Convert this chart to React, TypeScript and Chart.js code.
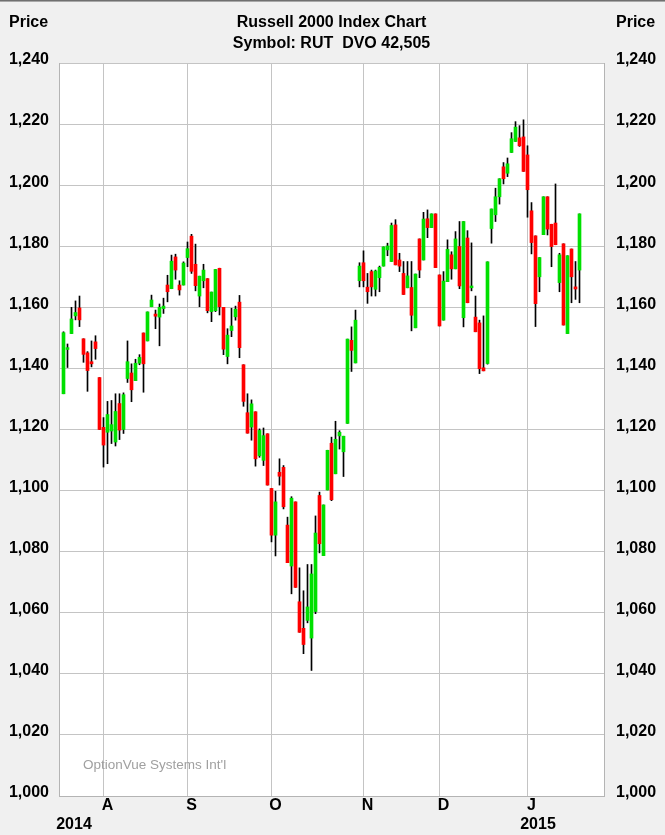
import React, { useEffect, useRef } from "react";
import { Chart, registerables } from "chart.js";

Chart.register(...registerables);

// Daily candles, 18 Jul 2014 .. 22 Jan 2015 (trading days, index 0..129)
const openPrices = [
  1131.7, 1146.2, 1151.4, 1157.2, 1159.8, 1149.7, 1145.1, 1142.2, 1148.7, 1137.0,
  1120.7, 1119.1, 1119.5, 1115.9, 1128.5, 1120.0, 1136.7, 1138.5, 1136.0, 1141.7,
  1151.6, 1149.0, 1160.2, 1157.8, 1156.8, 1159.6, 1167.3, 1166.1, 1176.5, 1167.3,
  1167.3, 1176.3, 1183.3, 1174.1, 1163.7, 1168.7, 1169.4, 1158.6, 1158.9, 1172.8,
  1160.0, 1143.9, 1152.4, 1156.9, 1161.7, 1141.2, 1125.5, 1120.8, 1125.8, 1111.4,
  1109.9, 1118.6, 1100.7, 1085.4, 1106.0, 1107.6, 1088.7, 1075.3, 1096.3, 1063.6,
  1054.9, 1057.5, 1051.7, 1060.4, 1098.4, 1078.7, 1100.2, 1115.5, 1105.5, 1117.9,
  1112.7, 1122.0, 1149.2, 1141.8, 1168.7, 1174.6, 1166.6, 1171.7, 1165.9, 1169.7,
  1173.5, 1178.8, 1175.0, 1187.0, 1175.5, 1171.1, 1166.4, 1166.5, 1153.3, 1182.4,
  1175.5, 1189.0, 1186.1, 1190.6, 1170.6, 1155.8, 1168.4, 1177.2, 1172.6, 1179.9,
  1156.6, 1182.7, 1166.4, 1156.8, 1154.9, 1140.2, 1141.6, 1185.8, 1190.3, 1196.2,
  1206.0, 1203.9, 1210.7, 1214.3, 1215.5, 1215.8, 1209.9, 1191.6, 1183.4, 1170.0,
  1183.8, 1196.2, 1187.2, 1187.6, 1168.1, 1180.8, 1151.4, 1179.1, 1166.7, 1172.2,
];
const highPrices = [
  1152.0, 1148.0, 1160.0, 1162.1, 1163.7, 1149.7, 1145.5, 1149.0, 1150.7, 1137.0,
  1123.9, 1129.2, 1129.5, 1131.7, 1131.7, 1132.0, 1149.0, 1141.5, 1143.0, 1144.5,
  1151.6, 1158.5, 1164.0, 1159.1, 1161.1, 1163.0, 1170.5, 1177.1, 1177.4, 1168.7,
  1174.9, 1181.4, 1183.9, 1180.7, 1170.2, 1174.1, 1169.4, 1165.0, 1172.4, 1172.8,
  1160.0, 1153.0, 1159.7, 1160.4, 1163.9, 1141.2, 1131.7, 1129.7, 1125.8, 1120.2,
  1120.5, 1118.6, 1100.7, 1099.8, 1110.4, 1108.2, 1091.3, 1098.0, 1096.3, 1074.7,
  1067.2, 1075.8, 1075.8, 1091.7, 1099.5, 1095.3, 1113.2, 1117.5, 1122.7, 1119.6,
  1117.8, 1149.6, 1153.6, 1159.1, 1174.6, 1178.5, 1171.1, 1172.2, 1172.2, 1173.5,
  1179.8, 1181.0, 1187.6, 1188.7, 1177.7, 1175.0, 1175.0, 1175.0, 1170.9, 1182.4,
  1191.1, 1191.9, 1190.6, 1190.6, 1170.6, 1171.7, 1182.1, 1178.2, 1184.8, 1188.1,
  1188.1, 1185.1, 1181.1, 1163.7, 1155.8, 1157.2, 1174.9, 1192.2, 1199.0, 1202.1,
  1207.4, 1208.9, 1217.2, 1220.8, 1219.5, 1221.4, 1212.9, 1194.3, 1183.4, 1176.3,
  1196.2, 1196.2, 1187.2, 1200.4, 1177.7, 1180.8, 1176.9, 1179.1, 1175.0, 1190.6,
];
const lowPrices = [
  1131.7, 1140.3, 1151.4, 1155.9, 1153.7, 1142.0, 1132.5, 1140.5, 1143.0, 1120.0,
  1107.7, 1108.8, 1115.4, 1114.6, 1116.7, 1118.7, 1135.4, 1129.1, 1136.0, 1141.2,
  1132.2, 1149.0, 1160.2, 1153.0, 1147.4, 1158.0, 1161.8, 1166.1, 1169.2, 1164.0,
  1167.3, 1173.3, 1171.1, 1165.4, 1160.2, 1166.4, 1158.2, 1155.3, 1158.6, 1157.5,
  1144.5, 1141.5, 1150.4, 1155.8, 1143.5, 1127.6, 1118.8, 1116.5, 1108.0, 1110.9,
  1108.2, 1101.8, 1083.2, 1078.6, 1101.8, 1094.0, 1076.4, 1066.2, 1068.3, 1053.6,
  1046.6, 1056.7, 1041.1, 1059.7, 1079.6, 1078.7, 1100.2, 1096.7, 1105.5, 1113.6,
  1104.6, 1122.0, 1139.0, 1141.8, 1166.7, 1166.7, 1161.3, 1163.7, 1163.7, 1165.1,
  1173.5, 1176.9, 1175.0, 1173.9, 1171.7, 1164.2, 1166.4, 1152.3, 1153.3, 1169.7,
  1175.5, 1182.8, 1186.1, 1173.0, 1153.9, 1155.8, 1168.4, 1169.2, 1172.6, 1166.1,
  1153.6, 1161.5, 1165.4, 1152.0, 1138.3, 1139.2, 1141.4, 1181.0, 1188.1, 1193.8,
  1200.4, 1202.8, 1210.7, 1214.3, 1212.7, 1204.5, 1189.5, 1177.5, 1153.7, 1165.1,
  1183.8, 1183.7, 1173.3, 1180.5, 1165.1, 1154.2, 1151.4, 1161.5, 1162.6, 1161.5,
];
const closePrices = [
  1151.7, 1146.8, 1156.2, 1158.3, 1155.9, 1144.6, 1139.3, 1141.5, 1146.5, 1120.0,
  1114.9, 1124.9, 1121.6, 1125.9, 1119.8, 1131.4, 1142.2, 1133.0, 1141.7, 1143.6,
  1141.5, 1158.5, 1162.4, 1157.1, 1160.0, 1160.4, 1165.1, 1175.1, 1172.2, 1165.7,
  1174.5, 1179.2, 1171.8, 1167.1, 1170.2, 1172.2, 1158.9, 1165.0, 1172.4, 1160.2,
  1146.3, 1150.9, 1153.9, 1159.4, 1146.8, 1129.2, 1118.8, 1128.4, 1110.4, 1119.7,
  1118.0, 1101.8, 1085.4, 1096.3, 1104.7, 1094.7, 1076.4, 1097.5, 1068.3, 1053.6,
  1049.6, 1061.9, 1072.7, 1086.1, 1082.6, 1095.3, 1113.2, 1097.0, 1116.8, 1119.1,
  1117.8, 1149.6, 1145.9, 1155.8, 1173.5, 1168.7, 1165.1, 1166.7, 1171.9, 1173.1,
  1179.8, 1180.1, 1186.8, 1173.9, 1173.5, 1164.2, 1170.3, 1157.4, 1170.9, 1172.2,
  1188.9, 1186.1, 1190.6, 1173.0, 1153.9, 1168.6, 1179.0, 1172.6, 1182.4, 1167.0,
  1188.1, 1161.5, 1167.0, 1152.0, 1139.9, 1139.2, 1174.9, 1192.2, 1196.2, 1202.1,
  1202.1, 1207.0, 1215.2, 1219.0, 1212.9, 1204.5, 1198.5, 1181.2, 1161.2, 1176.3,
  1196.2, 1185.6, 1179.9, 1180.5, 1177.2, 1154.2, 1176.9, 1170.0, 1166.0, 1190.6,
];

// Month boundaries (index of first trading day) and their labels
const monthTickIndex = [10, 31, 52, 75, 94, 116];
const monthLabels = ["A", "S", "O", "N", "D", "J"];
const yearLabels = ["2014", "2015"];
const titleLines = ["Russell 2000 Index Chart", "Symbol: RUT  DVO 42,505"];
const axisTitle = "Price";
const watermark = "OptionVue Systems Int'l";
const priceMin = 1000;
const priceMax = 1240;
const priceStep = 20;

const W = 665;
const H = 835;
const FONT = '"Liberation Sans", Arial, Helvetica, sans-serif';
const UP = "#00e000";
const DOWN = "#ff0000";
const GRID = "#c4c4c4";

export default function App() {
  const ref = useRef<HTMLCanvasElement>(null);

  useEffect(() => {
    document.body.style.margin = "0";
    const canvas = ref.current;
    if (!canvas) return;

    const idx = openPrices.map((_, i) => i);
    const bodies = idx.map((i) => ({ x: i, y: [openPrices[i], closePrices[i]] }));
    const wicks = idx.map((i) => ({ x: i, y: [lowPrices[i], highPrices[i]] }));
    const colors = idx.map((i) => (closePrices[i] >= openPrices[i] ? UP : DOWN));

    const bgPlugin = {
      id: "bgPlugin",
      beforeDraw(chart: any) {
        const { ctx, chartArea: a } = chart;
        ctx.save();
        ctx.fillStyle = "#f0f0f0";
        ctx.fillRect(0, 0, chart.width, chart.height);
        ctx.fillStyle = "#ffffff";
        ctx.fillRect(a.left, a.top, a.right - a.left, a.bottom - a.top);
        ctx.fillStyle = "#707070";
        ctx.fillRect(0, 0, chart.width, 1);
        ctx.fillStyle = "#a8a8a8";
        ctx.fillRect(0, 1, chart.width, 1);
        ctx.restore();
      },
      beforeDatasetsDraw(chart: any) {
        const { ctx, chartArea: a } = chart;
        ctx.save();
        ctx.font = `13.5px ${FONT}`;
        ctx.fillStyle = "#a0a0a0";
        ctx.textAlign = "left";
        ctx.textBaseline = "alphabetic";
        ctx.fillText(watermark, a.left + 24, 769);
        ctx.restore();
      },
      afterDraw(chart: any) {
        const { ctx, chartArea: a } = chart;
        const xs = chart.scales.x;
        ctx.save();
        ctx.fillStyle = "#000000";
        ctx.font = `bold 16px ${FONT}`;
        ctx.textBaseline = "alphabetic";
        ctx.textAlign = "center";
        const cx = (a.left + a.right) / 2;
        ctx.fillText(titleLines[0], cx, 27);
        ctx.fillText(titleLines[1], cx, 48);
        ctx.textAlign = "left";
        ctx.fillText(axisTitle, 9, 27);
        ctx.fillText(axisTitle, a.right + 12, 27);
        ctx.textAlign = "center";
        ctx.fillText(yearLabels[0], 74, 829);
        ctx.fillText(yearLabels[1], xs.getPixelForValue(monthTickIndex[5]) + 10.5, 829);
        ctx.restore();
      },
    };

    const tickFont = { family: FONT, size: 16, weight: "bold" as const };

    const chart = new Chart(canvas, {
      type: "bar",
      data: {
        datasets: [
          {
            label: "body",
            data: bodies as any,
            backgroundColor: colors,
            borderWidth: 0,
            barThickness: 3,
            grouped: false,
            order: 0,
            minBarLength: 1,
          } as any,
          {
            label: "wick",
            data: wicks as any,
            backgroundColor: "#000000",
            borderWidth: 0,
            barThickness: 1,
            grouped: false,
            order: 1,
          } as any,
        ],
      },
      options: {
        responsive: false,
        animation: false,
        devicePixelRatio: 1,
        layout: { padding: { top: 63, left: 0, right: 0, bottom: 0 } },
        plugins: {
          legend: { display: false },
          tooltip: { enabled: false },
          title: { display: false },
        },
        scales: {
          x: {
            type: "linear",
            position: "bottom",
            min: -1.125,
            max: 135.125,
            offset: false,
            grid: { color: GRID, lineWidth: 1, drawTicks: false, offset: false },
            border: { display: true, color: "#b4b4b4" },
            afterBuildTicks: (s: any) => {
              s.ticks = monthTickIndex.map((v) => ({ value: v }));
            },
            afterFit: (s: any) => {
              s.height = 39;
            },
            ticks: {
              autoSkip: false,
              maxRotation: 0,
              padding: 0,
              labelOffset: 4,
              color: "#000000",
              font: tickFont,
              callback: (_v: any, i: number) => monthLabels[i],
            },
          },
          y: {
            type: "linear",
            position: "left",
            min: priceMin,
            max: priceMax,
            beginAtZero: false,
            grid: { color: GRID, lineWidth: 1, drawTicks: false },
            border: { display: true, color: "#b4b4b4" },
            afterFit: (s: any) => {
              s.width = 59;
            },
            ticks: {
              stepSize: priceStep,
              padding: 10,
              labelOffset: -3,
              color: "#000000",
              font: tickFont,
              callback: (v: any) => Number(v).toLocaleString("en-US"),
            },
          },
          y2: {
            type: "linear",
            position: "right",
            min: priceMin,
            max: priceMax,
            beginAtZero: false,
            grid: { display: false, drawTicks: false },
            border: { display: true, color: "#b4b4b4" },
            afterFit: (s: any) => {
              s.width = 61;
            },
            ticks: {
              stepSize: priceStep,
              padding: 12,
              labelOffset: -3,
              color: "#000000",
              font: tickFont,
              callback: (v: any) => Number(v).toLocaleString("en-US"),
            },
          },
        },
      } as any,
      plugins: [bgPlugin],
    });

    return () => {
      chart.destroy();
    };
  }, []);

  return (
    <div style={{ position: "absolute", left: 0, top: 0, width: W, height: H }}>
      <canvas ref={ref} width={W} height={H} style={{ display: "block", width: W, height: H }} />
    </div>
  );
}
